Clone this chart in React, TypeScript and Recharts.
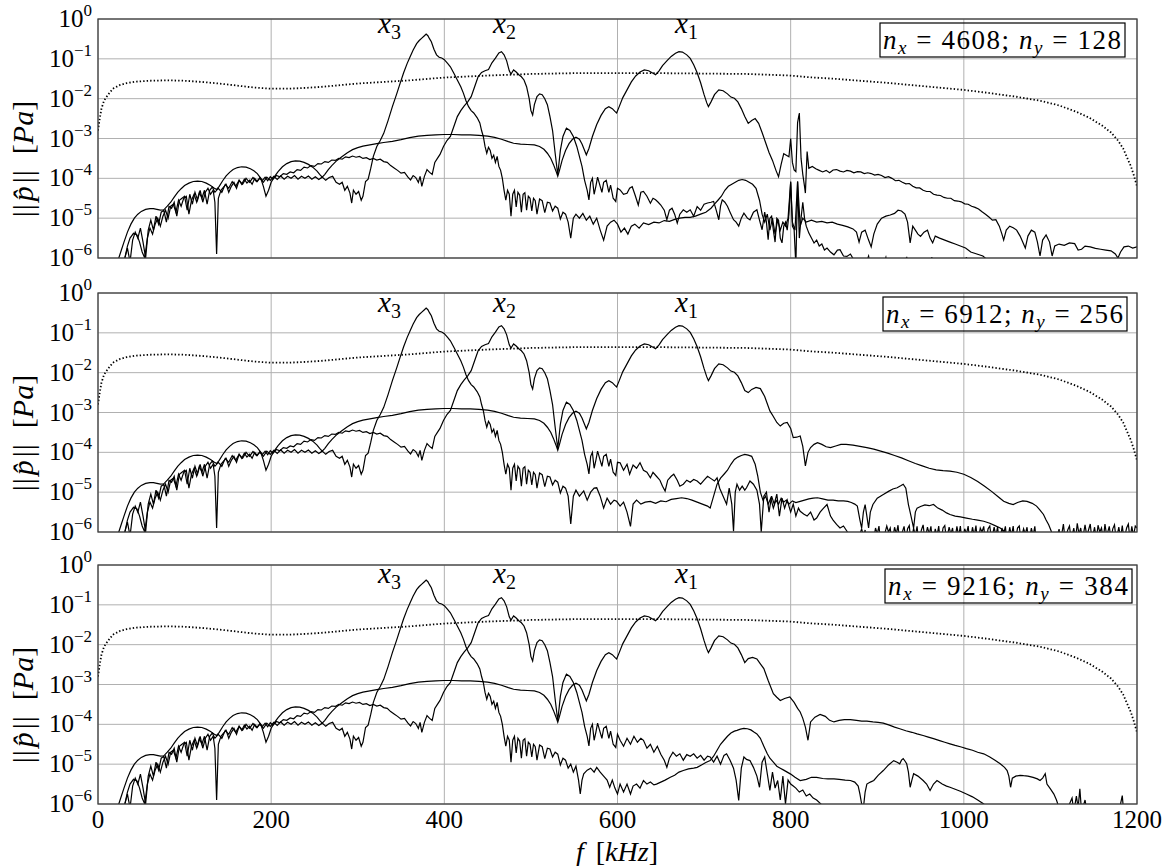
import React from "react";
import { LineChart, Line, XAxis, YAxis, CartesianGrid } from "recharts";

// every curve is a list of [f in kHz, log10 of |p| in Pa]
type Pt = [number, number];

const FONT = "Liberation Serif, DejaVu Serif, Noto Serif, serif";

const xTicks = [0, 200, 400, 600, 800, 1000, 1200];
const yTicks = [1e-6, 1e-5, 1e-4, 1e-3, 1e-2, 1e-1, 1];
const yMinorTicks = [
  2e-6, 3e-6, 4e-6, 5e-6, 6e-6, 7e-6, 8e-6, 9e-6,
  2e-5, 3e-5, 4e-5, 5e-5, 6e-5, 7e-5, 8e-5, 9e-5,
  2e-4, 3e-4, 4e-4, 5e-4, 6e-4, 7e-4, 8e-4, 9e-4,
  2e-3, 3e-3, 4e-3, 5e-3, 6e-3, 7e-3, 8e-3, 9e-3,
  2e-2, 3e-2, 4e-2, 5e-2, 6e-2, 7e-2, 8e-2, 9e-2,
  0.2, 0.3, 0.4, 0.5, 0.6, 0.7, 0.8, 0.9,
];

// source spectrum (dotted), identical in all three runs
const sourceSpectrum: Pt[] = [
  [0, -2.8], [2, -2.5], [4, -2.25], [7, -2.05], [10, -1.95], [14, -1.83], [18, -1.74], [25, -1.66],
  [33, -1.61], [45, -1.57], [60, -1.55], [80, -1.54], [100, -1.55], [120, -1.58], [140, -1.62],
  [160, -1.67], [180, -1.72], [200, -1.75], [220, -1.75], [240, -1.73], [260, -1.7], [280, -1.66],
  [300, -1.62], [330, -1.58], [360, -1.54], [400, -1.47], [450, -1.42], [500, -1.38], [550, -1.36],
  [600, -1.36], [650, -1.36], [700, -1.37], [750, -1.38], [800, -1.42], [820, -1.46], [850, -1.5],
  [880, -1.55], [910, -1.6], [940, -1.66], [970, -1.72], [1000, -1.78], [1030, -1.86], [1060, -1.95],
  [1090, -2.06], [1110, -2.17], [1130, -2.33], [1145, -2.48], [1160, -2.68], [1170, -2.85],
  [1178, -3.05], [1184, -3.25], [1189, -3.5], [1193, -3.7], [1196, -3.9], [1198, -4.05], [1200, -4.2],
];

// x1 receiver, common part up to 750 kHz
const x1Head: Pt[] = [
  [20, -6.4], [24, -6.0], [27, -5.8], [30, -5.6], [34, -5.35], [38, -5.15], [42, -5.0], [46, -4.9],
  [50, -4.83], [55, -4.78], [60, -4.76], [64, -4.76], [68, -4.78], [72, -4.8], [76, -4.79], [80, -4.7],
  [84, -4.6], [88, -4.47], [92, -4.35], [96, -4.26], [100, -4.18], [105, -4.12], [110, -4.08],
  [115, -4.07], [120, -4.08], [125, -4.12], [130, -4.18], [134, -4.24], [137, -4.28], [140, -4.2],
  [144, -4.06], [148, -3.94], [152, -3.85], [156, -3.78], [161, -3.73], [166, -3.71], [171, -3.72],
  [176, -3.76], [180, -3.81], [184, -3.88], [188, -4.0], [191, -4.2], [194, -4.45], [197, -4.3],
  [200, -4.1], [204, -3.95], [208, -3.83], [213, -3.71], [218, -3.63], [223, -3.58], [228, -3.56],
  [233, -3.57], [238, -3.6], [243, -3.65], [248, -3.72], [253, -3.82], [256, -3.9], [259, -3.97],
  [262, -3.9], [266, -3.78], [270, -3.68], [276, -3.55], [282, -3.45], [288, -3.36], [294, -3.28],
  [300, -3.23], [306, -3.19], [314, -3.16], [322, -3.13], [330, -3.1], [340, -3.07], [350, -3.03],
  [360, -2.98], [370, -2.94], [380, -2.92], [390, -2.91], [400, -2.9], [410, -2.9], [420, -2.91],
  [430, -2.91], [440, -2.92], [450, -2.94], [458, -2.97], [466, -3.02], [474, -3.08], [480, -3.12],
  [488, -3.14], [496, -3.15], [504, -3.16], [510, -3.2], [515, -3.27], [519, -3.37], [523, -3.5],
  [526, -3.65], [529, -3.82], [531, -3.95], [533, -3.8], [536, -3.55], [540, -3.3], [544, -3.13],
  [548, -3.02], [552, -2.97], [556, -3.02], [559, -3.14], [562, -3.3], [564, -3.41], [567, -3.25],
  [571, -2.95], [576, -2.65], [581, -2.42], [586, -2.25], [590, -2.2], [594, -2.25], [597, -2.32],
  [599, -2.36], [602, -2.2], [606, -1.98], [611, -1.78], [616, -1.58], [621, -1.43], [626, -1.33],
  [631, -1.28], [636, -1.3], [640, -1.35], [644, -1.4], [648, -1.3], [652, -1.17], [657, -1.05],
  [662, -0.94], [667, -0.86], [671, -0.82], [675, -0.83], [680, -0.9], [684, -0.99], [688, -1.15],
  [692, -1.35], [696, -1.6], [700, -1.9], [703, -2.1], [705, -2.2], [708, -2.08], [712, -1.9],
  [717, -1.78], [722, -1.8], [727, -1.88], [731, -1.96], [735, -1.99], [739, -2.08], [743, -2.25],
  [747, -2.45],
];

const x1TailA: Pt[] = [
  [751, -2.62], [755, -2.55], [759, -2.5], [763, -2.62], [767, -2.85], [771, -3.1], [775, -3.35],
  [779, -3.55], [783, -3.8], [786, -3.96], [789, -3.65], [792, -3.38], [795, -3.42], [798, -3.46],
  [800, -3.0], [802, -3.6], [804, -3.79], [806, -3.83], [808, -2.6], [810, -2.36], [812, -3.5],
  [814, -3.9], [816, -4.2], [817, -4.37], [819, -3.33], [821, -3.75], [825, -3.7], [829, -3.76],
  [833, -3.8], [837, -3.84], [841, -3.8], [845, -3.86], [849, -3.79], [853, -3.78], [857, -3.82],
  [861, -3.84], [865, -3.8], [869, -3.82], [873, -3.86], [877, -3.83], [881, -3.84], [885, -3.88],
  [889, -3.86], [893, -3.88], [897, -3.92], [901, -3.9], [905, -3.93], [909, -3.98], [913, -3.96],
  [917, -4.0], [921, -4.06], [925, -4.05], [929, -4.1], [933, -4.14], [937, -4.13], [941, -4.2],
  [945, -4.24], [949, -4.24], [953, -4.3], [957, -4.33], [961, -4.33], [965, -4.4], [969, -4.42],
  [973, -4.43], [977, -4.48], [981, -4.5], [985, -4.5], [989, -4.56], [993, -4.57], [997, -4.59],
  [1001, -4.64], [1005, -4.65], [1009, -4.7], [1013, -4.73], [1017, -4.77], [1021, -4.84],
  [1025, -4.9], [1029, -4.97], [1033, -5.05], [1037, -5.04], [1041, -5.2], [1044, -5.4],
  [1046, -5.55], [1049, -5.3], [1053, -5.2], [1057, -5.24], [1061, -5.3], [1065, -5.45],
  [1068, -5.6], [1071, -5.75], [1074, -5.45], [1078, -5.3], [1082, -5.35], [1085, -5.6],
  [1088, -5.95], [1091, -5.55], [1095, -5.42], [1099, -5.6], [1102, -5.95], [1105, -5.7],
  [1110, -5.65], [1116, -5.68], [1122, -5.62], [1128, -5.64], [1132, -5.8], [1136, -5.78],
  [1140, -5.7], [1146, -5.72], [1152, -5.76], [1158, -5.78], [1164, -5.8], [1170, -5.82],
  [1175, -5.9], [1178, -6.0], [1181, -5.85], [1185, -5.72], [1190, -5.7], [1195, -5.75], [1200, -5.72],
];

const x1TailB: Pt[] = [
  [751, -2.5], [755, -2.42], [760, -2.37], [765, -2.4], [770, -2.6], [776, -2.96], [780, -3.1],
  [784, -3.25], [788, -3.34], [792, -3.27], [796, -3.25], [800, -3.4], [803, -3.63], [807, -3.62],
  [811, -3.59], [814, -3.85], [817, -4.34], [820, -4.0], [823, -3.88], [827, -3.8], [831, -3.76],
  [836, -3.8], [841, -3.86], [846, -3.88], [852, -3.84], [858, -3.8], [864, -3.8], [872, -3.82],
  [880, -3.85], [888, -3.88], [896, -3.92], [904, -3.97], [912, -4.02], [920, -4.08], [928, -4.14],
  [936, -4.21], [944, -4.28], [952, -4.34], [960, -4.4], [968, -4.44], [976, -4.46], [984, -4.47],
  [992, -4.5], [1000, -4.55], [1008, -4.63], [1016, -4.73], [1024, -4.85], [1032, -4.98],
  [1040, -5.12], [1046, -5.23], [1052, -5.28], [1057, -5.31], [1062, -5.26], [1068, -5.22],
  [1073, -5.23], [1079, -5.28], [1084, -5.35], [1088, -5.45], [1092, -5.56], [1095, -5.7],
  [1098, -5.82], [1101, -5.98], [1104, -6.2], [1108, -6.1], [1110, -5.93], [1112, -6.2],
  [1115, -5.8], [1117, -6.2], [1120, -5.95], [1122, -5.85], [1124, -6.2], [1127, -5.9],
  [1129, -6.2], [1131, -5.78], [1133, -6.05], [1135, -5.9], [1137, -6.2], [1140, -5.82],
  [1142, -6.1], [1144, -5.95], [1146, -5.8], [1148, -6.2], [1151, -5.88], [1153, -6.2],
  [1155, -5.83], [1157, -6.0], [1159, -5.9], [1161, -6.2], [1163, -5.8], [1165, -6.1],
  [1168, -5.86], [1170, -6.2], [1172, -5.92], [1174, -5.82], [1176, -6.2], [1179, -5.88],
  [1181, -6.15], [1183, -5.84], [1185, -6.2], [1188, -5.9], [1190, -5.8], [1192, -6.2],
  [1194, -5.86], [1196, -6.1], [1198, -5.85], [1200, -5.9],
];

const x1TailC: Pt[] = [
  [751, -2.35], [756, -2.32], [761, -2.36], [765, -2.48], [769, -2.6], [774, -2.9], [780, -3.23],
  [784, -3.32], [788, -3.4], [793, -3.35], [799, -3.31], [804, -3.45], [808, -3.6], [811, -3.69],
  [814, -3.85], [817, -4.07], [820, -4.4], [823, -3.94], [828, -3.82], [834, -3.75], [840, -3.8],
  [845, -3.9], [850, -3.94], [856, -3.9], [862, -3.88], [869, -3.88], [876, -3.9], [882, -3.92],
  [888, -3.92], [895, -3.94], [901, -3.95], [907, -3.97], [914, -4.02], [920, -4.07], [926, -4.11],
  [933, -4.16], [940, -4.2], [946, -4.24], [953, -4.28], [959, -4.32], [965, -4.36], [972, -4.41],
  [978, -4.45], [984, -4.49], [990, -4.53], [997, -4.57], [1003, -4.61], [1010, -4.65],
  [1016, -4.7], [1023, -4.74], [1030, -4.82], [1036, -4.9], [1042, -4.99], [1047, -5.08],
  [1050, -5.16], [1052, -5.3], [1054, -5.58], [1056, -5.35], [1060, -5.3], [1065, -5.28],
  [1069, -5.29], [1074, -5.3], [1080, -5.33], [1085, -5.37], [1088, -5.41], [1091, -5.35],
  [1094, -5.24], [1096, -5.5], [1100, -5.62], [1104, -5.75], [1107, -5.9], [1110, -6.1],
  [1116, -6.3], [1122, -6.0], [1125, -5.85], [1127, -6.2], [1130, -5.8], [1132, -6.1],
  [1134, -5.62], [1136, -6.2], [1140, -5.9], [1143, -6.3], [1150, -6.4], [1170, -6.4],
  [1180, -6.1], [1183, -5.79], [1185, -6.3], [1200, -6.4],
];

// x2 receiver, common part up to 600 kHz
const x2Head: Pt[] = [
  [28, -6.4], [31, -6.0], [34, -5.75], [37, -6.1], [40, -5.55], [43, -5.35], [46, -5.5], [49, -5.25],
  [52, -5.6], [55, -6.0], [58, -5.3], [61, -5.05], [64, -5.3], [67, -4.95], [70, -5.15], [73, -4.85],
  [76, -4.8], [79, -5.1], [82, -4.7], [85, -4.75], [88, -4.6], [91, -4.95], [94, -4.55], [97, -4.5],
  [100, -4.45], [103, -4.8], [106, -4.4], [109, -4.65], [112, -4.35], [115, -4.55], [118, -4.3],
  [121, -4.6], [124, -4.35], [127, -4.25], [130, -4.4], [133, -4.3], [135, -4.6], [137, -5.9],
  [139, -4.5], [142, -4.3], [145, -4.22], [148, -4.15], [151, -4.35], [154, -4.2], [157, -4.1],
  [160, -4.25], [163, -4.05], [166, -4.15], [169, -4.02], [172, -4.12], [175, -4.05], [178, -4.15],
  [181, -4.0], [184, -4.08], [187, -3.98], [190, -4.05], [193, -3.97], [196, -4.06], [199, -3.96],
  [202, -4.02], [206, -3.93], [210, -3.96], [214, -3.88], [218, -3.9], [222, -3.84], [226, -3.86],
  [230, -3.78], [234, -3.8], [238, -3.72], [242, -3.74], [246, -3.68], [250, -3.7], [254, -3.63],
  [258, -3.64], [262, -3.58], [266, -3.6], [270, -3.54], [274, -3.55], [278, -3.5], [282, -3.52],
  [286, -3.46], [290, -3.48], [294, -3.44], [298, -3.47], [302, -3.45], [306, -3.5], [310, -3.48],
  [314, -3.53], [318, -3.5], [322, -3.54], [326, -3.52], [330, -3.58], [334, -3.6], [338, -3.68],
  [342, -3.74], [346, -3.8], [350, -3.87], [354, -3.85], [358, -3.97], [361, -4.04], [364, -3.93],
  [367, -3.98], [370, -4.1], [372, -3.95], [374, -4.2], [377, -3.95], [380, -3.78], [383, -3.85],
  [386, -3.9], [389, -3.6], [392, -3.5], [395, -3.4], [399, -3.2], [403, -3.05], [407, -2.95],
  [411, -2.7], [415, -2.45], [419, -2.3], [423, -2.18], [427, -2.08], [431, -1.95], [435, -1.7],
  [439, -1.45], [443, -1.34], [447, -1.3], [451, -1.27], [455, -1.1], [459, -0.98], [463, -0.85],
  [466, -0.82], [469, -0.9], [472, -1.05], [475, -1.3], [477, -1.38], [480, -1.28], [483, -1.33],
  [486, -1.4], [489, -1.45], [492, -1.53], [495, -1.7], [498, -2.0], [500, -2.3], [502, -2.41],
  [504, -2.15], [507, -1.95], [510, -1.88], [513, -1.9], [516, -2.0], [519, -2.15], [522, -2.45],
  [525, -2.8], [528, -3.37], [531, -3.91], [534, -3.3], [537, -2.95], [541, -2.74], [545, -2.8],
  [549, -2.95], [553, -3.2], [556, -3.45], [559, -3.7], [562, -4.05], [565, -4.3], [567, -4.54],
  [569, -4.1], [571, -4.0], [573, -4.4], [575, -4.2], [577, -3.97], [580, -4.2], [582, -4.35],
  [584, -4.1], [587, -4.05], [590, -4.35], [592, -4.17], [595, -4.5], [598, -4.58], [600, -4.25],
];

const x2TailA: Pt[] = [
  [603, -4.29], [607, -4.4], [611, -4.375], [614, -4.25], [617, -4.21], [620, -4.4], [624, -4.67],
  [627, -4.35], [630, -4.33], [634, -4.45], [638, -4.625], [641, -4.5], [644, -4.54], [647, -4.6],
  [650, -4.67], [654, -4.8], [657, -5.04], [660, -4.8], [663, -4.75], [666, -4.9], [669, -5.125],
  [672, -4.9], [676, -4.79], [680, -4.85], [684, -4.79], [688, -4.95], [692, -4.71], [696, -4.8],
  [700, -4.65], [704, -4.62], [708, -4.6], [711, -4.58], [714, -4.8], [717, -5.04], [719, -4.7],
  [721, -4.54], [724, -4.6], [727, -4.7], [730, -4.85], [734, -5.04], [737, -5.1], [740, -5.2],
  [743, -5.0], [746, -4.875], [750, -5.0], [753, -5.04], [757, -4.85], [761, -4.79], [764, -5.05],
  [767, -5.29], [770, -4.85], [772, -5.1], [774, -5.54], [776, -5.0], [778, -4.95], [780, -5.3],
  [782, -5.6], [784, -5.0], [786, -5.05], [788, -5.5], [790, -5.62], [792, -5.2], [794, -5.1],
  [796, -5.3], [798, -4.9], [800, -4.08], [802, -5.2], [804, -5.29], [806, -6.2], [808, -4.08],
  [810, -5.5], [812, -5.0], [814, -4.6], [816, -5.0], [818, -5.2], [821, -5.375], [824, -5.5],
  [827, -5.625], [830, -5.55], [833, -5.7], [836, -5.65], [839, -5.8], [842, -5.75], [846, -5.85],
  [850, -5.92], [854, -5.8], [857, -5.79], [861, -5.95], [865, -5.96], [869, -5.9], [873, -6.05],
  [878, -6.3], [886, -6.2], [890, -5.95], [893, -6.3], [905, -6.3], [910, -5.98], [913, -6.3],
  [930, -6.3], [934, -5.97], [937, -6.3], [960, -6.3], [963, -5.98], [966, -6.3], [1000, -6.3],
  [1003, -5.98], [1006, -6.3], [1200, -6.3],
];

const x2TailB: Pt[] = [
  [603, -4.26], [607, -4.45], [611, -4.3], [614, -4.55], [618, -4.32], [622, -4.4], [626, -4.26],
  [630, -4.45], [634, -4.5], [638, -4.64], [641, -4.5], [645, -4.6], [649, -4.7], [652, -4.85],
  [655, -4.97], [658, -4.7], [662, -4.6], [665, -4.55], [669, -4.7], [672, -4.85], [676, -4.8],
  [680, -4.7], [684, -4.75], [688, -4.68], [692, -4.72], [696, -4.8], [700, -4.7], [704, -4.6],
  [708, -4.66], [712, -4.72], [715, -4.64], [718, -4.9], [722, -5.1], [726, -5.3], [729, -4.9],
  [732, -5.3], [734, -5.98], [736, -5.0], [738, -4.8], [741, -4.95], [744, -4.85], [747, -4.95],
  [749, -4.89], [753, -4.72], [757, -4.8], [761, -4.95], [764, -5.3], [766, -6.0], [769, -5.1],
  [772, -5.0], [775, -5.5], [778, -5.1], [781, -5.3], [784, -5.05], [787, -5.6], [790, -5.15],
  [793, -5.4], [796, -5.2], [800, -5.5], [803, -5.3], [806, -5.6], [809, -5.4], [811, -5.48],
  [815, -5.55], [819, -5.6], [823, -5.5], [827, -5.7], [830, -5.65], [834, -5.5], [838, -5.4],
  [842, -5.31], [846, -5.6], [849, -5.7], [853, -5.81], [857, -5.9], [861, -5.85], [865, -5.98],
  [870, -6.2], [876, -6.3], [882, -5.92], [884, -6.1], [886, -5.95], [888, -6.3], [895, -6.3],
  [898, -5.9], [900, -6.05], [902, -5.85], [904, -6.3], [908, -6.1], [911, -5.85], [913, -6.0],
  [915, -5.9], [917, -6.3], [920, -5.88], [922, -6.05], [924, -5.83], [926, -6.3], [929, -6.0],
  [931, -5.86], [933, -6.2], [935, -5.92], [937, -5.84], [939, -6.3], [942, -5.9], [944, -6.1],
  [946, -5.86], [948, -6.3], [951, -5.95], [953, -5.82], [955, -6.2], [958, -5.88], [960, -6.05],
  [962, -5.86], [964, -6.3], [967, -5.92], [969, -6.1], [971, -5.85], [973, -6.3], [976, -5.9],
  [978, -5.84], [980, -6.2], [983, -5.88], [985, -6.05], [987, -5.9], [989, -6.3], [992, -5.86],
  [994, -6.1], [996, -5.85], [998, -6.3], [1001, -5.92], [1003, -6.05], [1005, -5.85], [1007, -6.3],
  [1010, -5.88], [1012, -6.1], [1014, -5.84], [1016, -6.3], [1019, -5.9], [1021, -6.0],
  [1023, -5.86], [1025, -6.3], [1028, -5.92], [1030, -5.85], [1032, -6.2], [1035, -5.88],
  [1037, -6.1], [1039, -5.87], [1041, -6.3], [1044, -5.9], [1046, -6.05], [1048, -5.86],
  [1050, -6.3], [1053, -5.88], [1055, -6.1], [1057, -5.85], [1059, -6.3], [1062, -5.9],
  [1064, -5.85], [1066, -6.2], [1069, -5.92], [1071, -6.05], [1073, -5.88], [1075, -6.3],
  [1078, -5.9], [1080, -6.1], [1082, -5.86], [1084, -6.3], [1090, -6.3],
];

const x2TailC: Pt[] = [
  [603, -4.4], [607, -4.55], [611, -4.35], [615, -4.5], [619, -4.3], [623, -4.45], [627, -4.35],
  [630, -4.4], [634, -4.6], [638, -4.5], [642, -4.7], [646, -4.55], [650, -4.75], [654, -4.9],
  [657, -5.08], [660, -4.85], [664, -4.7], [668, -4.8], [672, -4.74], [676, -4.9], [680, -4.76],
  [684, -4.8], [688, -4.74], [692, -4.85], [696, -4.78], [700, -4.9], [704, -4.8], [707, -4.82],
  [711, -4.95], [715, -4.8], [719, -5.0], [723, -4.78], [726, -4.74], [730, -4.9], [734, -5.1],
  [737, -5.4], [740, -5.91], [743, -5.1], [746, -4.82], [749, -4.88], [753, -4.91], [757, -5.08],
  [761, -5.3], [764, -5.58], [767, -4.95], [770, -4.82], [773, -5.24], [776, -5.66], [779, -5.2],
  [782, -5.6], [785, -5.41], [788, -5.9], [791, -5.3], [794, -6.0], [797, -5.4], [800, -5.5],
  [803, -5.55], [806, -5.6], [810, -5.7], [814, -5.65], [818, -5.8], [822, -5.75], [826, -5.85],
  [830, -5.9], [835, -6.0], [840, -6.3], [1200, -6.3],
];

// x3 receiver, common part up to 545 kHz
const x3Head: Pt[] = [
  [28, -6.4], [31, -6.0], [34, -5.7], [37, -5.5], [41, -5.38], [45, -5.42], [48, -5.6], [51, -5.85],
  [54, -6.0], [57, -5.5], [60, -5.25], [63, -5.4], [66, -5.15], [69, -5.0], [72, -5.2], [75, -4.95],
  [78, -4.8], [81, -5.0], [84, -4.7], [87, -4.65], [90, -4.85], [93, -4.55], [96, -4.7], [99, -4.5],
  [102, -4.45], [105, -4.9], [108, -4.55], [111, -4.4], [114, -4.6], [117, -4.35], [120, -4.5],
  [123, -4.3], [126, -4.65], [129, -4.3], [132, -4.22], [135, -4.35], [139, -4.25], [143, -4.35],
  [147, -4.15], [151, -4.25], [155, -4.08], [159, -4.2], [163, -4.05], [167, -4.15], [171, -4.0],
  [175, -4.1], [179, -3.98], [183, -4.08], [187, -4.0], [191, -4.1], [195, -3.97], [199, -4.05],
  [203, -3.95], [207, -4.03], [211, -3.94], [215, -4.02], [219, -3.95], [223, -4.0], [227, -3.93],
  [231, -4.02], [235, -3.95], [239, -4.0], [243, -3.94], [247, -4.02], [251, -3.96], [255, -4.03],
  [259, -3.97], [263, -4.05], [267, -3.98], [271, -3.95], [275, -4.1], [279, -4.15], [282, -4.1],
  [285, -4.3], [288, -4.2], [291, -4.37], [293, -4.62], [295, -4.3], [298, -4.4], [301, -4.33],
  [304, -4.55], [306, -4.45], [309, -4.08], [312, -4.02], [315, -3.75], [318, -3.45], [322, -3.2],
  [326, -3.05], [330, -2.87], [335, -2.55], [340, -2.2], [345, -1.88], [349, -1.61], [353, -1.35],
  [357, -1.12], [361, -0.92], [364, -0.78], [368, -0.62], [371, -0.54], [374, -0.48], [377, -0.42],
  [379, -0.38], [381, -0.42], [383, -0.5], [385, -0.57], [388, -0.76], [391, -0.9], [394, -0.96],
  [397, -0.98], [400, -1.02], [404, -1.12], [407, -1.2], [411, -1.36], [415, -1.53], [419, -1.7],
  [422, -1.86], [425, -2.05], [428, -2.2], [431, -2.3], [434, -2.36], [438, -2.48], [441, -2.61],
  [443, -2.8], [445, -2.95], [447, -3.2], [449, -3.37], [451, -3.22], [453, -3.3], [455, -3.5],
  [457, -3.42], [459, -3.6], [461, -3.45], [463, -3.7], [465, -3.8], [467, -4.0], [469, -4.3],
  [471, -4.55], [473, -4.3], [475, -4.4], [477, -4.95], [479, -4.4], [481, -4.3], [483, -4.72],
  [485, -4.35], [487, -4.42], [489, -4.85], [491, -4.4], [493, -4.36], [495, -4.8], [497, -4.45],
  [499, -4.5], [501, -4.82], [503, -4.5], [505, -4.56], [507, -4.9], [510, -4.52], [513, -4.56],
  [516, -4.86], [519, -4.6], [522, -4.62], [525, -4.82], [528, -4.7], [531, -4.75], [534, -5.02],
  [537, -4.85], [540, -4.9], [543, -5.1],
];

const x3TailA: Pt[] = [
  [546, -5.5], [549, -5.0], [552, -4.9], [556, -5.0], [560, -4.88], [564, -5.05], [568, -4.95],
  [572, -5.15], [576, -5.0], [580, -5.3], [584, -5.55], [588, -5.2], [592, -5.1], [596, -5.05],
  [600, -5.15], [604, -5.35], [608, -5.25], [612, -5.4], [616, -5.2], [620, -5.15], [625, -5.25],
  [630, -5.12], [636, -5.16], [642, -5.1], [648, -5.12], [654, -5.06], [660, -5.08], [666, -5.03],
  [672, -5.0], [678, -4.98], [684, -4.98], [690, -4.95], [696, -4.9], [702, -4.85], [708, -4.75],
  [712, -4.65], [716, -4.55], [720, -4.45], [724, -4.3], [728, -4.2], [732, -4.15], [736, -4.1],
  [740, -4.05], [744, -4.03], [748, -4.05], [752, -4.1], [756, -4.15], [760, -4.25], [764, -4.55],
  [767, -4.9], [770, -5.1], [773, -4.9], [776, -5.3], [779, -5.0], [782, -5.4], [785, -5.05],
  [788, -5.3], [791, -5.1], [794, -5.2], [797, -5.0], [800, -4.1], [802, -5.1], [805, -5.3],
  [808, -4.08], [811, -5.2], [814, -5.0], [818, -5.1], [824, -5.05], [830, -5.1], [836, -5.08],
  [842, -5.12], [848, -5.1], [854, -5.15], [860, -5.18], [866, -5.22], [872, -5.27], [876, -5.35],
  [879, -5.6], [882, -5.35], [886, -5.3], [890, -5.55], [893, -5.72], [896, -5.4], [900, -5.15],
  [905, -5.0], [910, -4.95], [915, -4.92], [920, -4.88], [924, -4.8], [928, -4.82], [932, -4.9],
  [935, -5.1], [938, -5.62], [941, -5.2], [944, -5.3], [947, -5.4], [950, -5.46], [954, -5.35],
  [958, -5.3], [961, -5.5], [964, -5.62], [967, -5.45], [972, -5.5], [978, -5.55], [984, -5.6],
  [990, -5.65], [996, -5.7], [1002, -5.75], [1008, -5.85], [1015, -5.9], [1022, -5.95],
  [1030, -6.1], [1040, -6.3], [1200, -6.3],
];

const x3TailB: Pt[] = [
  [546, -5.8], [549, -5.1], [552, -4.95], [556, -5.1], [561, -4.97], [565, -5.2], [569, -5.0],
  [573, -4.9], [576, -4.89], [580, -5.1], [584, -5.4], [588, -5.15], [592, -5.3], [596, -5.2],
  [599, -5.23], [603, -5.35], [607, -5.25], [611, -5.5], [615, -5.86], [618, -5.3], [622, -5.2],
  [627, -5.3], [632, -5.25], [638, -5.23], [644, -5.28], [650, -5.22], [656, -5.24], [662, -5.18],
  [668, -5.16], [674, -5.14], [680, -5.16], [686, -5.2], [692, -5.25], [698, -5.3], [704, -5.35],
  [707, -5.4], [711, -5.1], [715, -4.8], [719, -4.65], [723, -4.55], [727, -4.45], [731, -4.3],
  [735, -4.18], [739, -4.12], [743, -4.08], [747, -4.05], [751, -4.07], [755, -4.1], [759, -4.3],
  [762, -4.6], [765, -5.0], [768, -5.2], [771, -5.1], [774, -5.3], [777, -5.15], [780, -5.4],
  [783, -5.2], [786, -5.3], [789, -5.15], [792, -5.25], [795, -5.2], [798, -5.3], [802, -5.22],
  [806, -5.26], [811, -5.23], [816, -5.2], [821, -5.17], [826, -5.15], [831, -5.14], [837, -5.17],
  [843, -5.2], [849, -5.2], [855, -5.22], [861, -5.22], [866, -5.23], [870, -5.26], [874, -5.3],
  [877, -5.35], [880, -5.7], [882, -5.9], [884, -5.5], [886, -5.31], [888, -5.6], [890, -5.9],
  [892, -5.5], [895, -5.31], [900, -5.15], [907, -5.06], [913, -4.98], [918, -4.92], [923, -4.89],
  [927, -4.84], [930, -4.8], [933, -4.9], [936, -5.31], [939, -5.6], [942, -5.9], [944, -5.5],
  [946, -5.4], [950, -5.36], [955, -5.32], [960, -5.34], [965, -5.31], [970, -5.4], [975, -5.45],
  [980, -5.52], [984, -5.56], [990, -5.6], [996, -5.62], [1003, -5.65], [1010, -5.68],
  [1016, -5.7], [1023, -5.73], [1030, -5.78], [1036, -5.84], [1042, -5.9], [1048, -6.0],
  [1055, -6.3], [1200, -6.3],
];

const x3TailC: Pt[] = [
  [546, -5.0], [549, -5.2], [552, -5.05], [555, -5.4], [557, -5.75], [559, -5.4], [561, -5.24],
  [565, -5.15], [569, -5.1], [573, -5.2], [576, -5.08], [580, -5.2], [584, -5.3], [588, -5.4],
  [591, -5.58], [594, -5.4], [597, -5.6], [600, -5.75], [603, -5.5], [607, -5.7], [611, -5.5],
  [615, -5.75], [618, -5.55], [622, -5.5], [626, -5.6], [630, -5.41], [634, -5.5], [638, -5.45],
  [642, -5.52], [645, -5.5], [650, -5.45], [655, -5.4], [661, -5.33], [666, -5.28], [671, -5.2],
  [676, -5.16], [682, -5.12], [688, -5.1], [692, -5.08], [697, -5.02], [702, -4.96], [707, -4.91],
  [711, -4.8], [715, -4.65], [719, -4.5], [723, -4.4], [727, -4.3], [731, -4.22], [735, -4.17],
  [738, -4.15], [742, -4.12], [746, -4.1], [750, -4.11], [754, -4.14], [758, -4.2], [761, -4.24],
  [765, -4.35], [769, -4.55], [773, -4.74], [776, -4.85], [780, -4.95], [784, -5.05], [788, -5.1],
  [792, -5.15], [796, -5.2], [800, -5.25], [805, -5.33], [811, -5.41], [818, -5.38], [824, -5.33],
  [830, -5.33], [837, -5.36], [843, -5.37], [850, -5.37], [856, -5.38], [863, -5.4], [869, -5.41],
  [874, -5.45], [878, -5.55], [880, -5.75], [882, -6.0], [884, -6.1], [886, -5.7], [888, -5.5],
  [892, -5.45], [896, -5.41], [901, -5.28], [907, -5.16], [913, -5.02], [919, -4.91], [923, -4.95],
  [926, -4.99], [928, -4.9], [930, -4.86], [932, -4.92], [934, -4.99], [936, -5.2], [938, -5.58],
  [940, -5.4], [942, -5.24], [947, -5.3], [953, -5.41], [957, -5.5], [961, -5.66], [965, -5.5],
  [969, -5.41], [975, -5.5], [980, -5.55], [984, -5.58], [990, -5.63], [996, -5.68], [1003, -5.75],
  [1010, -5.82], [1016, -5.9], [1023, -6.0], [1030, -6.3], [1200, -6.3],
];

const gridSizes = [
  { nx: "4608", ny: "128" },
  { nx: "6912", ny: "256" },
  { nx: "9216", ny: "384" },
];

const toRows = (pts: Pt[]) => pts.map(([f, e]) => ({ f, p: Math.pow(10, e) }));

const panels = [
  { x1: [...x1Head, ...x1TailA], x2: [...x2Head, ...x2TailA], x3: [...x3Head, ...x3TailA] },
  { x1: [...x1Head, ...x1TailB], x2: [...x2Head, ...x2TailB], x3: [...x3Head, ...x3TailB] },
  { x1: [...x1Head, ...x1TailC], x2: [...x2Head, ...x2TailC], x3: [...x3Head, ...x3TailC] },
].map((p) => ({ x1: toRows(p.x1), x2: toRows(p.x2), x3: toRows(p.x3) }));

const sourceRows = toRows(sourceSpectrum);

// layout
const W = 1169;
const PLOT_L = 98;
const PLOT_R = 1137;
const PLOT_H = 239;
const TOP_PAD = 19;
const PANEL_TOPS = [19, 293, 565];
const LABEL_DY = [14, 19, 18];
const BOXES = [
  { x: 880, w: 245 },
  { x: 883, w: 244 },
  { x: 885, w: 247 },
];

const textStyle = { fontFamily: FONT };

function PowTick(props: any) {
  const { y, payload } = props;
  const e = Math.round(Math.log10(payload.value));
  const s = e < 0 ? "\u2212" + String(-e) : String(e);
  return (
    <text x={PLOT_L - 6} y={y + 8} textAnchor="end" style={textStyle} fontSize={25} fill="#000">
      10
      <tspan dy={-11} fontSize={17}>
        {s}
      </tspan>
    </text>
  );
}

function FreqTick(props: any) {
  const { x, payload } = props;
  return (
    <text x={x} y={TOP_PAD + PLOT_H + 24} textAnchor="middle" style={textStyle} fontSize={25} fill="#000">
      {payload.value}
    </text>
  );
}

// keeps the tick positions (and so the grid) without drawing labels
function NoTick() {
  return <g />;
}

function Panel({ idx }: { idx: number }) {
  const last = idx === 2;
  const xAxisH = last ? 50 : 0;
  const height = TOP_PAD + PLOT_H + xAxisH + 20;
  const d = panels[idx];
  return (
    <div style={{ position: "absolute", left: 0, top: PANEL_TOPS[idx] - TOP_PAD }}>
      <LineChart
        width={W}
        height={height}
        margin={{ top: TOP_PAD, right: W - PLOT_R, bottom: 20, left: PLOT_L - 60 }}
        style={{ overflow: "visible" }}
      >
        <CartesianGrid stroke="#b0b0b0" strokeWidth={1} />
        <XAxis
          dataKey="f"
          type="number"
          domain={[0, 1200]}
          ticks={xTicks}
          allowDataOverflow
          height={xAxisH}
          axisLine={false}
          tickLine={false}
          tick={last ? <FreqTick /> : <NoTick />}
        />
        <YAxis
          type="number"
          scale="log"
          domain={[1e-6, 1]}
          ticks={yTicks}
          allowDataOverflow
          width={60}
          axisLine={false}
          tickLine={false}
          tick={<PowTick />}
        />
        {/* small inward ticks on the left spine */}
        <YAxis
          yAxisId="minor"
          type="number"
          scale="log"
          domain={[1e-6, 1]}
          ticks={yMinorTicks}
          allowDataOverflow
          width={0}
          mirror
          axisLine={false}
          tickSize={2.5}
          tickLine={{ stroke: "#404040", strokeWidth: 0.8 }}
          tick={<NoTick />}
        />
        <Line
          data={sourceRows}
          dataKey="p"
          stroke="#000"
          strokeWidth={1.8}
          strokeDasharray="1.4 2.1"
          dot={false}
          isAnimationActive={false}
        />
        <Line data={d.x3} dataKey="p" stroke="#000" strokeWidth={1.2} dot={false} isAnimationActive={false} />
        <Line data={d.x2} dataKey="p" stroke="#000" strokeWidth={1.2} dot={false} isAnimationActive={false} />
        <Line data={d.x1} dataKey="p" stroke="#000" strokeWidth={1.2} dot={false} isAnimationActive={false} />
      </LineChart>
    </div>
  );
}

function Overlay() {
  return (
    <svg
      width={W}
      height={866}
      style={{ position: "absolute", left: 0, top: 0, pointerEvents: "none", fontFamily: FONT }}
    >
      {PANEL_TOPS.map((top, i) => {
        const base = top + LABEL_DY[i];
        const box = BOXES[i];
        return (
          <g key={i}>
            <rect x={PLOT_L} y={top} width={PLOT_R - PLOT_L} height={PLOT_H} fill="none" stroke="#404040" strokeWidth={1.3} />
            <text x={378} y={base} fontSize={29}>
              <tspan fontStyle="italic">x</tspan>
              <tspan fontSize={20} dy={6}>3</tspan>
            </text>
            <text x={493} y={base} fontSize={29}>
              <tspan fontStyle="italic">x</tspan>
              <tspan fontSize={20} dy={6}>2</tspan>
            </text>
            <text x={675} y={base} fontSize={29}>
              <tspan fontStyle="italic">x</tspan>
              <tspan fontSize={20} dy={6}>1</tspan>
            </text>
            <rect x={box.x} y={top + 4} width={box.w} height={34} fill="none" stroke="#000" strokeWidth={1.2} />
            <text x={box.x + 3} y={top + 30} fontSize={27} textLength={box.w - 7} lengthAdjust="spacing">
              <tspan fontStyle="italic">n</tspan>
              <tspan fontStyle="italic" fontSize={19} dy={5}>x</tspan>
              <tspan dy={-5}>{` = ${gridSizes[i].nx}; `}</tspan>
              <tspan fontStyle="italic">n</tspan>
              <tspan fontStyle="italic" fontSize={19} dy={5}>y</tspan>
              <tspan dy={-5}>{` = ${gridSizes[i].ny}`}</tspan>
            </text>
            <text transform={`translate(33, ${top + 140}) rotate(-90)`} textAnchor="middle" fontSize={30}>
              <tspan>|</tspan>
              <tspan dx={1}>|</tspan>
              <tspan dx={3} fontStyle="italic">{"p\u0302"}</tspan>
              <tspan dx={3}>|</tspan>
              <tspan dx={1}>|</tspan>
              <tspan dx={16}>[</tspan>
              <tspan fontStyle="italic">Pa</tspan>
              <tspan>]</tspan>
            </text>
          </g>
        );
      })}
      <text x={617} y={861} textAnchor="middle" fontSize={28}>
        <tspan fontStyle="italic">f</tspan>
        <tspan dx={12}>[</tspan>
        <tspan fontStyle="italic">kHz</tspan>
        <tspan>]</tspan>
      </text>
    </svg>
  );
}

export default function App() {
  return (
    <div style={{ position: "absolute", left: 0, top: 0, width: W, height: 866, background: "#fff" }}>
      <Panel idx={0} />
      <Panel idx={1} />
      <Panel idx={2} />
      <Overlay />
    </div>
  );
}
